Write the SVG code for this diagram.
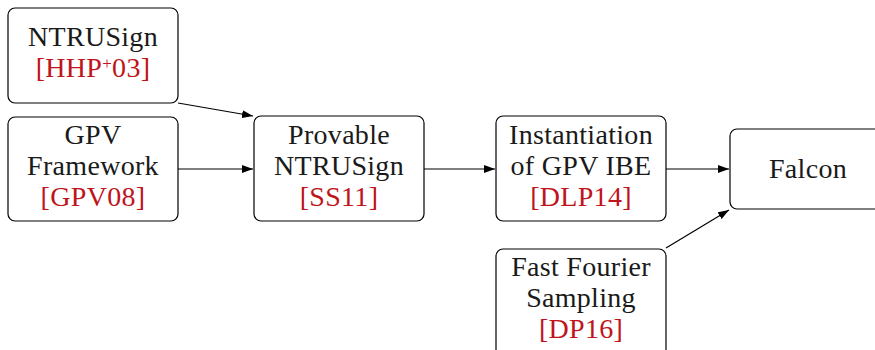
<svg xmlns="http://www.w3.org/2000/svg" width="875" height="350" viewBox="0 0 875 350">
<defs>
<style>
.box{fill:#fff;stroke:#000;stroke-width:1.2}
.t{font-family:'Liberation Serif','DejaVu Serif','Times New Roman',serif;font-size:28px;letter-spacing:0.3px;fill:#1a1a1a;text-anchor:middle}
.r{fill:#c0141c}
.c{stroke:#000;stroke-width:1.2;fill:none;marker-end:url(#ah)}
</style>
<marker id="ah" viewBox="0 0 11 8" refX="11" refY="4" markerWidth="11" markerHeight="8" markerUnits="userSpaceOnUse" orient="auto">
<path d="M0,0 L11,4 L0,8 Z" fill="#000"/>
</marker>
</defs>
<rect width="875" height="350" fill="#fff"/>
<g id="connectors">
<line class="c" x1="178" y1="103" x2="253" y2="116"/>
<line class="c" x1="178" y1="169" x2="253" y2="169"/>
<line class="c" x1="424" y1="169" x2="495" y2="169"/>
<line class="c" x1="666" y1="169" x2="729" y2="169"/>
<line class="c" x1="666" y1="248" x2="729" y2="210"/>
</g>
<g font-family="Liberation Serif, DejaVu Serif, serif">
<g id="ntrusign">
<rect class="box" x="8" y="8" width="170" height="95" rx="7"/>
<text class="t" x="93" y="46">NTRUSign</text>
<text class="t r" x="93" y="77">[HHP<tspan font-size="17" dy="-8">+</tspan><tspan dy="8">03]</tspan></text>
</g>
<g id="gpv">
<rect class="box" x="8" y="117" width="170" height="104" rx="7"/>
<text class="t" x="93" y="144">GPV</text>
<text class="t" x="93" y="175">Framework</text>
<text class="t r" x="93" y="206">[GPV08]</text>
</g>
<g id="provable">
<rect class="box" x="254" y="116" width="170" height="105" rx="7"/>
<text class="t" x="339" y="144">Provable</text>
<text class="t" x="339" y="175">NTRUSign</text>
<text class="t r" x="339" y="206">[SS11]</text>
</g>
<g id="instantiation">
<rect class="box" x="496" y="116" width="170" height="105" rx="7"/>
<text class="t" x="581" y="144">Instantiation</text>
<text class="t" x="581" y="175">of GPV IBE</text>
<text class="t r" x="581" y="206">[DLP14]</text>
</g>
<g id="falcon">
<rect class="box" x="730" y="129" width="156" height="80" rx="7"/>
<text class="t" x="808" y="178">Falcon</text>
</g>
<g id="ffs">
<rect class="box" x="496" y="249" width="170" height="110" rx="7"/>
<text class="t" x="581" y="276">Fast Fourier</text>
<text class="t" x="581" y="307">Sampling</text>
<text class="t r" x="581" y="338">[DP16]</text>
</g>
</g>
</svg>
